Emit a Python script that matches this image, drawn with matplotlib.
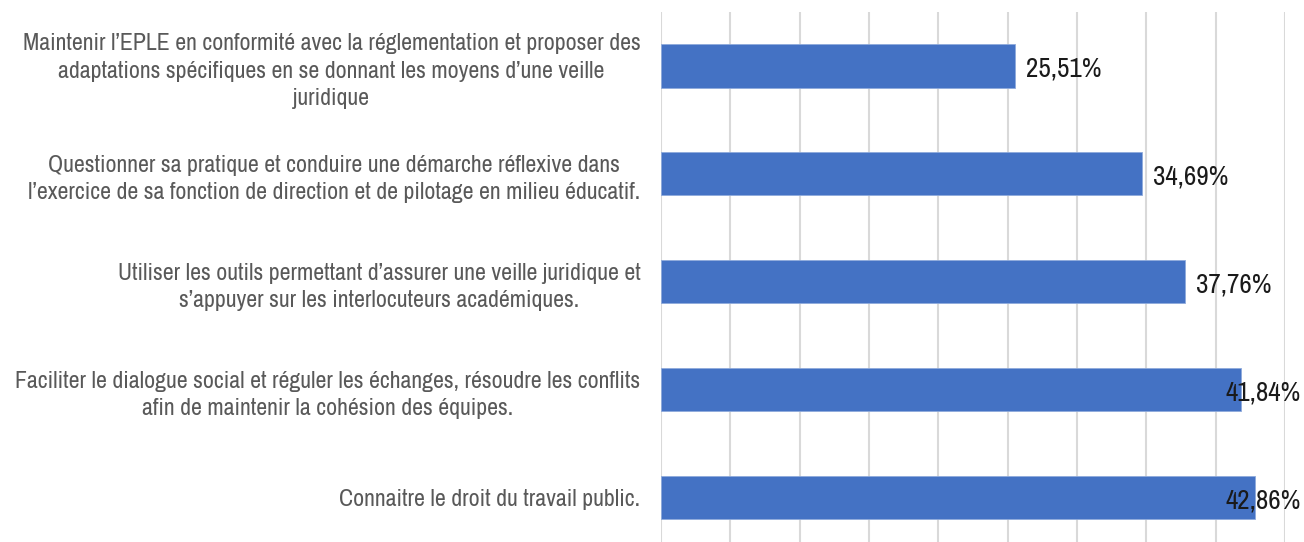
import matplotlib.pyplot as plt
from matplotlib import font_manager

# données
categories = [
    "Maintenir l\u2019EPLE en conformité avec la réglementation et proposer des\n"
    "adaptations spécifiques en se donnant les moyens d\u2019une veille\njuridique",
    "Questionner sa pratique et conduire une démarche réflexive dans\n"
    "l\u2019exercice de sa fonction de direction et de pilotage en milieu éducatif.",
    "Utiliser les outils permettant d\u2019assurer une veille juridique et\n"
    "s\u2019appuyer sur les interlocuteurs académiques.",
    "Faciliter le dialogue social et réguler les échanges, résoudre les conflits\n"
    "afin de maintenir la cohésion des équipes.",
    "Connaitre le droit du travail public.",
]
values = [25.51, 34.69, 37.76, 41.84, 42.86]
value_labels = ["25,51%", "34,69%", "37,76%", "41,84%", "42,86%"]
xticks = [0, 5, 10, 15, 20, 25, 30, 35, 40, 45]

# police étroite si dispo (Calibri n'existe pas ici)
installed = {f.name for f in font_manager.fontManager.ttflist}
narrow = [n for n in sorted(installed) if "Narrow" in n or "Condensed" in n]
if narrow:
    fam, lab_size, val_size = [narrow[0], "DejaVu Sans"], 17.2, 19.5
else:
    fam, lab_size, val_size = ["Roboto", "DejaVu Sans"], 14.5, 16.5
plt.rcParams['font.family'] = fam

fig = plt.figure(figsize=(13.04, 5.42), dpi=100)
ax = fig.add_axes([0.507, -0.018, 0.4785, 0.996])

y = list(range(len(values)))
ax.barh(y, values, height=0.4, color="#4472C4", edgecolor="#8FAADC", linewidth=0.6, zorder=3)

ax.set_xlim(0, 45)
ax.set_ylim(len(values) - 0.5, -0.5)
ax.set_xticks(xticks)
ax.set_xticklabels([])
ax.tick_params(axis='x', length=0)
ax.grid(axis='x', color="#D9D9D9", linewidth=1.5, zorder=0)
for s in ax.spines.values():
    s.set_visible(False)

ax.set_yticks(y)
ax.set_yticklabels(categories, fontsize=lab_size, color="#595959", multialignment='center',
                   linespacing=1.38)
ax.tick_params(axis='y', length=0, pad=15)

for yi, v, lab in zip(y, values, value_labels):
    x = min(v + 0.8, 40.7)
    ax.text(x, yi + 0.03, lab, va='center', ha='left', fontsize=val_size, color="#1a1a1a", zorder=4)

fig.savefig("out.png", dpi=100)
